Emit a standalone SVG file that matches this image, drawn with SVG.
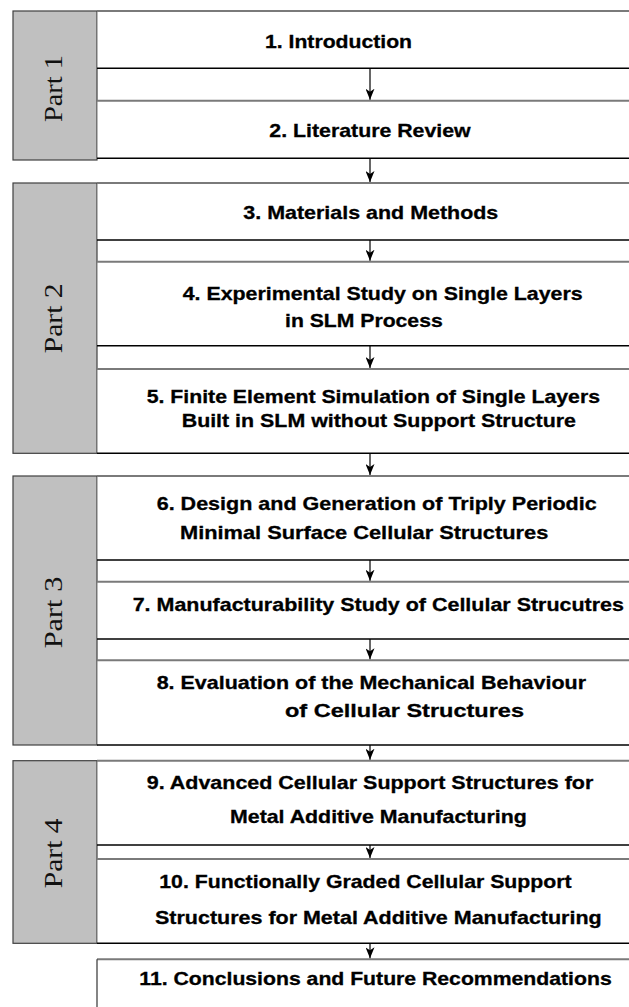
<svg xmlns="http://www.w3.org/2000/svg" width="629" height="1007" viewBox="0 0 629 1007">
  <style>
    .part { fill: #c0c0c0; stroke: #404040; stroke-width: 1.2; }
    .plabel { font-family: "Liberation Serif", "Times New Roman", serif; font-size: 25px; fill: #111; }
    .box { fill: #fff; stroke: none; }
    .top { stroke: #7a7a7a; stroke-width: 2; fill: none; }
    .bot { stroke: #000; stroke-width: 1.4; fill: none; }
    .side { stroke: #333; stroke-width: 1.2; fill: none; }
    .t { font-family: "Liberation Sans", Arial, sans-serif; font-weight: bold; font-size: 18.6px; fill: #000; stroke: #000; stroke-width: 0.3; }
    .conn { stroke: #000; stroke-width: 1.2; fill: none; marker-end: url(#arrow); }
  </style>
  <defs>
    <marker id="arrow" markerUnits="userSpaceOnUse" viewBox="0 0 9 11" refX="4.5" refY="11" markerWidth="9" markerHeight="11" orient="0">
      <path d="M0,0 L4.5,3 L9,0 L4.5,11 Z" fill="#000"/>
    </marker>
  </defs>
  <rect width="629" height="1007" fill="#fff"/>

  <!-- part side bars -->
  <g id="part1">
    <rect class="part" x="13" y="11" width="84" height="149"/>
    <text class="plabel" transform="translate(62,122) rotate(-90)" textLength="67" lengthAdjust="spacingAndGlyphs">Part 1</text>
  </g>
  <g id="part2">
    <rect class="part" x="13" y="183" width="84" height="270.3"/>
    <text class="plabel" transform="translate(62,353.3) rotate(-90)" textLength="70" lengthAdjust="spacingAndGlyphs">Part 2</text>
  </g>
  <g id="part3">
    <rect class="part" x="13" y="476" width="84" height="269"/>
    <text class="plabel" transform="translate(62,648.3) rotate(-90)" textLength="71.6" lengthAdjust="spacingAndGlyphs">Part 3</text>
  </g>
  <g id="part4">
    <rect class="part" x="13" y="760.7" width="84" height="182.6"/>
    <text class="plabel" transform="translate(62,888.3) rotate(-90)" textLength="70" lengthAdjust="spacingAndGlyphs">Part 4</text>
  </g>

  <!-- chapter boxes: open on the right, top rule grey, bottom rule black -->
  <g id="ch1">
    <rect class="box" x="97.6" y="11" width="540" height="57.3"/>
    <path class="top" d="M97,11 H640"/>
    <path class="bot" d="M97,68.3 H640"/>
    <text class="t" x="265" y="47.6" textLength="147" lengthAdjust="spacingAndGlyphs">1. Introduction</text>
  </g>
  <g id="ch2">
    <rect class="box" x="97.6" y="100.7" width="540" height="57.6"/>
    <path class="top" d="M97,100.7 H640"/>
    <path class="bot" d="M97,158.3 H640"/>
    <text class="t" x="269.3" y="136.7" textLength="201.4" lengthAdjust="spacingAndGlyphs">2. Literature Review</text>
  </g>
  <g id="ch3">
    <rect class="box" x="97.6" y="183" width="540" height="57"/>
    <path class="top" d="M97,183 H640"/>
    <path class="bot" d="M97,240 H640"/>
    <text class="t" x="243.3" y="219.3" textLength="255" lengthAdjust="spacingAndGlyphs">3. Materials and Methods</text>
  </g>
  <g id="ch4">
    <rect class="box" x="97.6" y="261.7" width="540" height="84"/>
    <path class="top" d="M97,261.7 H640"/>
    <path class="bot" d="M97,345.7 H640"/>
    <text class="t" x="182.7" y="300" textLength="400" lengthAdjust="spacingAndGlyphs">4. Experimental Study on Single Layers</text>
    <text class="t" x="285" y="327.2" textLength="157.7" lengthAdjust="spacingAndGlyphs">in SLM Process</text>
  </g>
  <g id="ch5">
    <rect class="box" x="97.6" y="369" width="540" height="84.3"/>
    <path class="top" d="M97,369 H640"/>
    <path class="bot" d="M97,453.3 H640"/>
    <text class="t" x="146.7" y="403.3" textLength="453.3" lengthAdjust="spacingAndGlyphs">5. Finite Element Simulation of Single Layers</text>
    <text class="t" x="181.7" y="426.7" textLength="394.3" lengthAdjust="spacingAndGlyphs">Built in SLM without Support Structure</text>
  </g>
  <g id="ch6">
    <rect class="box" x="97.6" y="476" width="540" height="84"/>
    <path class="top" d="M97,476 H640"/>
    <path class="bot" d="M97,560 H640"/>
    <text class="t" x="156.7" y="509.5" textLength="440" lengthAdjust="spacingAndGlyphs">6. Design and Generation of Triply Periodic</text>
    <text class="t" x="180" y="539" textLength="368.3" lengthAdjust="spacingAndGlyphs">Minimal Surface Cellular Structures</text>
  </g>
  <g id="ch7">
    <rect class="box" x="97.6" y="581.7" width="540" height="57.3"/>
    <path class="top" d="M97,581.7 H640"/>
    <path class="bot" d="M97,639 H640"/>
    <text class="t" x="132.7" y="611.3" textLength="491.3" lengthAdjust="spacingAndGlyphs">7. Manufacturability Study of Cellular Strucutres</text>
  </g>
  <g id="ch8">
    <rect class="box" x="97.6" y="660.3" width="540" height="84.7"/>
    <path class="top" d="M97,660.3 H640"/>
    <path class="bot" d="M97,745 H640"/>
    <text class="t" x="156.7" y="689" textLength="429.3" lengthAdjust="spacingAndGlyphs">8. Evaluation of the Mechanical Behaviour</text>
    <text class="t" x="285" y="716.7" textLength="239" lengthAdjust="spacingAndGlyphs">of Cellular Structures</text>
  </g>
  <g id="ch9">
    <rect class="box" x="97.6" y="760.7" width="540" height="84.3"/>
    <path class="top" d="M97,760.7 H640"/>
    <path class="bot" d="M97,845 H640"/>
    <text class="t" x="146.7" y="789" textLength="446.6" lengthAdjust="spacingAndGlyphs">9. Advanced Cellular Support Structures for</text>
    <text class="t" x="230" y="823" textLength="296.7" lengthAdjust="spacingAndGlyphs">Metal Additive Manufacturing</text>
  </g>
  <g id="ch10">
    <rect class="box" x="97.6" y="859" width="540" height="84.3"/>
    <path class="top" d="M97,859 H640"/>
    <path class="bot" d="M97,943.3 H640"/>
    <text class="t" x="159.3" y="888.3" textLength="412.4" lengthAdjust="spacingAndGlyphs">10. Functionally Graded Cellular Support</text>
    <text class="t" x="155" y="924" textLength="446.7" lengthAdjust="spacingAndGlyphs">Structures for Metal Additive Manufacturing</text>
  </g>
  <g id="ch11">
    <rect class="box" x="97.6" y="959.3" width="540" height="60"/>
    <path class="top" d="M97,959.3 H640"/>
    <path class="side" d="M97,959.3 V1010"/>
    <text class="t" x="139.3" y="985" textLength="472.4" lengthAdjust="spacingAndGlyphs">11. Conclusions and Future Recommendations</text>
  </g>

  <!-- connectors -->
  <g id="connectors">
    <path class="conn" d="M370,68.3 V99.7"/>
    <path class="conn" d="M370,158.3 V182"/>
    <path class="conn" d="M370,240 V260.7"/>
    <path class="conn" d="M370,345.7 V368"/>
    <path class="conn" d="M370,453.3 V475"/>
    <path class="conn" d="M370,560 V580.7"/>
    <path class="conn" d="M370,639 V659.3"/>
    <path class="conn" d="M370,745 V759.7"/>
    <path class="conn" d="M370,845 V858"/>
    <path class="conn" d="M370,943.3 V958.3"/>
  </g>
</svg>
